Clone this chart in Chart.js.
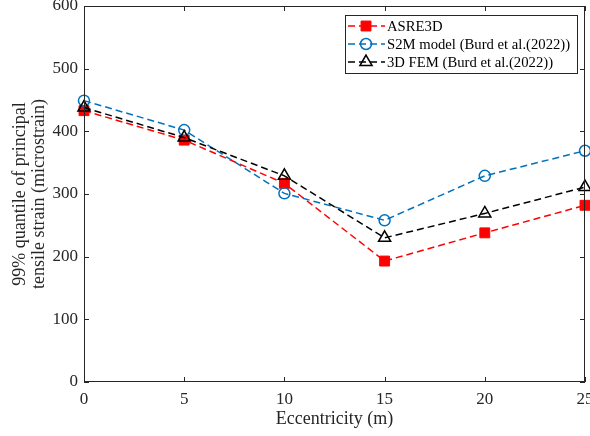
<!DOCTYPE html>
<html>
<head>
<meta charset="utf-8">
<script src="https://cdn.jsdelivr.net/npm/chart.js@4/dist/chart.umd.min.js"></script>
<style>
html,body{margin:0;padding:0;background:#fff;}
#wrap{width:590px;height:436px;position:relative;}
</style>
</head>
<body>
<div id="wrap"><canvas id="c" width="590" height="436"></canvas></div>
<script>
const eccentricity = [0, 5, 10, 15, 20, 25];
const asre3d = [433, 386, 317, 193, 238, 282];
const s2m = [449, 402, 301, 258, 329, 369];
const fem3d = [438, 390, 329, 230, 269, 311];
const seriesNames = ['ASRE3D', 'S2M model (Burd et al.(2022))', '3D FEM (Burd et al.(2022))'];
const xTitle = 'Eccentricity (m)';
const yTitle = ['99% quantile of principal', 'tensile strain (microstrain)'];

const FONT = '"Liberation Serif", "Times New Roman", serif';
const AXIS = '#262626';

function pts(vals){ return eccentricity.map((x,i)=>({x:x, y:vals[i]})); }

const boxPlugin = {
  id: 'boxTicks',
  afterDatasetsDraw(chart){
    const {ctx, chartArea:a, scales} = chart;
    ctx.save();
    ctx.strokeStyle = AXIS;
    ctx.lineWidth = 1;
    ctx.strokeRect(a.left+0.5, a.top+0.5, a.right-a.left-1, a.bottom-a.top-1);
    const L = 5;
    ctx.beginPath();
    scales.x.ticks.forEach(t=>{
      const px = Math.round(scales.x.getPixelForValue(t.value))+0.5;
      ctx.moveTo(px, a.bottom); ctx.lineTo(px, a.bottom-L);
      ctx.moveTo(px, a.top); ctx.lineTo(px, a.top+L);
    });
    scales.y.ticks.forEach(t=>{
      const py = Math.round(scales.y.getPixelForValue(t.value))+0.5;
      ctx.moveTo(a.left, py); ctx.lineTo(a.left+L, py);
      ctx.moveTo(a.right, py); ctx.lineTo(a.right-L, py);
    });
    ctx.stroke();
    ctx.restore();
  }
};

function drawMarker(ctx, style, x, y, r, fill, stroke, lw){
  ctx.save();
  ctx.lineWidth = lw; ctx.strokeStyle = stroke; ctx.fillStyle = fill;
  ctx.setLineDash([]);
  ctx.beginPath();
  if (style === 'rect'){
    const s = Math.SQRT1_2 * r;
    ctx.rect(x-s, y-s, 2*s, 2*s);
  } else if (style === 'circle'){
    ctx.arc(x, y, r, 0, Math.PI*2);
  } else if (style === 'triangle'){
    let rad = 0;
    ctx.moveTo(x + Math.sin(rad)*r, y - Math.cos(rad)*r);
    rad += 2*Math.PI/3;
    ctx.lineTo(x + Math.sin(rad)*r, y - Math.cos(rad)*r);
    rad += 2*Math.PI/3;
    ctx.lineTo(x + Math.sin(rad)*r, y - Math.cos(rad)*r);
    ctx.closePath();
  }
  ctx.fill();
  ctx.stroke();
  ctx.restore();
}

const legendPlugin = {
  id: 'customLegend',
  afterDraw(chart){
    const ctx = chart.ctx;
    const bx = 345, by = 15, bw = 232, bh = 58;
    ctx.save();
    ctx.fillStyle = '#fff';
    ctx.fillRect(bx, by, bw, bh);
    ctx.strokeStyle = AXIS; ctx.lineWidth = 1;
    ctx.strokeRect(bx+0.5, by+0.5, bw, bh);
    const ys = [26, 44, 62];
    chart.data.datasets.forEach((ds, i)=>{
      const y = ys[i];
      ctx.save();
      ctx.strokeStyle = ds.borderColor; ctx.lineWidth = ds.borderWidth;
      ctx.setLineDash([7,4]);
      ctx.beginPath(); ctx.moveTo(348, y); ctx.lineTo(385, y); ctx.stroke();
      ctx.restore();
      drawMarker(ctx, ds.pointStyle, 366, y, ds.pointRadius, ds.pointBackgroundColor, ds.pointBorderColor, ds.pointBorderWidth);
      ctx.fillStyle = '#000';
      ctx.font = '14.7px ' + FONT;
      ctx.textBaseline = 'middle';
      ctx.fillText(ds.label, 387, y+1);
    });
    ctx.restore();
  }
};

new Chart(document.getElementById('c'), {
  type: 'line',
  data: {
    datasets: [
      {label: seriesNames[0], data: pts(asre3d), borderColor: '#ff0000', borderWidth: 1.5, borderDash: [7,4],
       pointStyle: 'rect', pointRadius: 7, pointBackgroundColor: '#ff0000', pointBorderColor: '#ff0000', pointBorderWidth: 1, order: 3},
      {label: seriesNames[1], data: pts(s2m), borderColor: '#0072BD', borderWidth: 1.5, borderDash: [7,4],
       pointStyle: 'circle', pointRadius: 5.5, pointBackgroundColor: 'rgba(0,0,0,0)', pointBorderColor: '#0072BD', pointBorderWidth: 1.5, order: 2},
      {label: seriesNames[2], data: pts(fem3d), borderColor: '#000000', borderWidth: 1.5, borderDash: [7,4],
       pointStyle: 'triangle', pointRadius: 7, pointBackgroundColor: 'rgba(0,0,0,0)', pointBorderColor: '#000000', pointBorderWidth: 1.5, order: 1}
    ]
  },
  options: {
    responsive: false,
    animation: false,
    devicePixelRatio: 1,
    layout: {autoPadding: false, padding: {top: 6, right: 5, left: 0, bottom: 0}},
    plugins: {legend: {display: false}, tooltip: {enabled: false}},
    elements: {line: {tension: 0, fill: false}},
    clip: false,
    scales: {
      x: {
        type: 'linear', min: 0, max: 25,
        grid: {display: false, drawTicks: false}, border: {display: false},
        ticks: {stepSize: 5, padding: 7, maxRotation: 0, autoSkip: false, color: AXIS, font: {family: FONT, size: 17}},
        title: {display: true, text: xTitle, color: AXIS, font: {family: FONT, size: 18, lineHeight: 1.15}, padding: {top: 0, bottom: 6}},
        afterFit(s){ s.height = 54; s.paddingLeft = 0; s.paddingRight = 0; }
      },
      y: {
        min: 0, max: 600,
        grid: {display: false, drawTicks: false}, border: {display: false},
        ticks: {stepSize: 100, padding: 6, color: AXIS, font: {family: FONT, size: 17}},
        title: {display: true, text: yTitle, color: AXIS, font: {family: FONT, size: 18, lineHeight: 1.05}, padding: {top: 10.5, bottom: 0}},
        afterFit(s){ s.width = 84; s.paddingTop = 0; s.paddingBottom = 0; }
      }
    }
  },
  plugins: [boxPlugin, legendPlugin]
});
</script>
</body>
</html>
